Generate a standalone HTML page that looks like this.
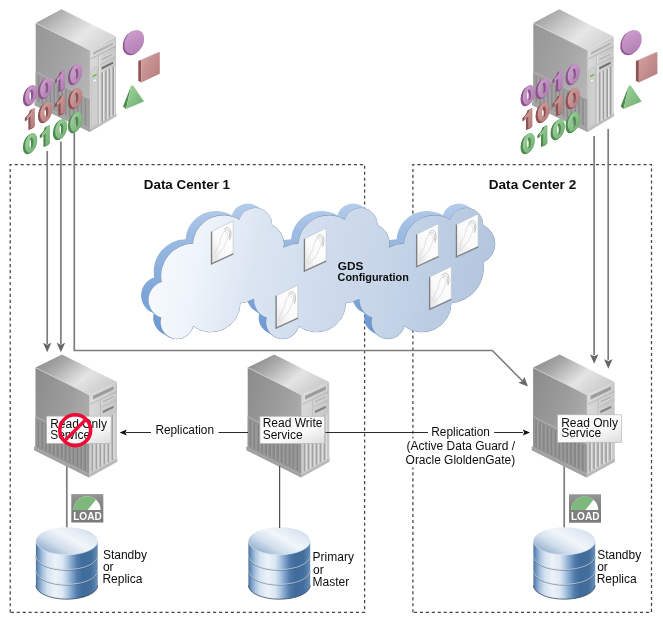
<!DOCTYPE html>
<html><head><meta charset="utf-8"><title>GDS</title>
<style>html,body{margin:0;padding:0;background:#fff}body{width:663px;height:620px;overflow:hidden;font-family:"Liberation Sans",sans-serif}</style>
</head><body><svg width="663" height="620" viewBox="0 0 663 620" style="display:block;will-change:transform" font-family="'Liberation Sans', sans-serif">
<defs>
<linearGradient id="cface" gradientUnits="userSpaceOnUse" x1="150" y1="240" x2="500" y2="310">
 <stop offset="0" stop-color="#f8fbfe"/><stop offset="0.14" stop-color="#eef4fa"/><stop offset="0.30" stop-color="#dbe5f2"/>
 <stop offset="0.51" stop-color="#cfdbec"/><stop offset="0.71" stop-color="#c3d3e7"/><stop offset="0.86" stop-color="#b8cae1"/><stop offset="1" stop-color="#b0c4dd"/>
</linearGradient>
<linearGradient id="cside" gradientUnits="userSpaceOnUse" x1="0" y1="203" x2="0" y2="340">
 <stop offset="0" stop-color="#b6cdeb"/><stop offset="0.2" stop-color="#9fbde3"/><stop offset="0.5" stop-color="#8aaedd"/><stop offset="1" stop-color="#6896d0"/>
</linearGradient>

<!-- server gradients (objectBoundingBox) -->
<linearGradient id="sTop" x1="0" y1="0.2" x2="1" y2="0.8">
 <stop offset="0" stop-color="#8a8a8a"/><stop offset="0.25" stop-color="#a9a9a9"/><stop offset="0.6" stop-color="#e4e4e4"/><stop offset="1" stop-color="#c6c6c6"/>
</linearGradient>
<linearGradient id="sLeft" x1="0" y1="0" x2="1" y2="0.6">
 <stop offset="0" stop-color="#8b8b8b"/><stop offset="0.6" stop-color="#9d9d9d"/><stop offset="1" stop-color="#b0b0b0"/>
</linearGradient>
<linearGradient id="sTop2" x1="0" y1="0.2" x2="1" y2="0.8">
 <stop offset="0" stop-color="#999999"/><stop offset="0.3" stop-color="#c2c2c2"/><stop offset="0.62" stop-color="#e7e7e7"/><stop offset="1" stop-color="#cfcfcf"/>
</linearGradient>
<linearGradient id="sLeft2" x1="0" y1="0" x2="1" y2="0.6">
 <stop offset="0" stop-color="#969696"/><stop offset="0.6" stop-color="#a5a5a5"/><stop offset="1" stop-color="#b6b6b6"/>
</linearGradient>
<linearGradient id="sRight" x1="0" y1="0" x2="1" y2="0">
 <stop offset="0" stop-color="#dadada"/><stop offset="1" stop-color="#c4c4c4"/>
</linearGradient>
<linearGradient id="lbl" x1="0" y1="0" x2="1" y2="1">
 <stop offset="0" stop-color="#ffffff"/><stop offset="0.6" stop-color="#fbfbfb"/><stop offset="1" stop-color="#dcdcdc"/>
</linearGradient>
<linearGradient id="dbSide" x1="0" y1="0" x2="1" y2="0">
 <stop offset="0" stop-color="#46719f"/><stop offset="0.04" stop-color="#6d93bd"/><stop offset="0.11" stop-color="#a9c3df"/>
 <stop offset="0.19" stop-color="#d6e3f1"/><stop offset="0.31" stop-color="#ecf2f9"/><stop offset="0.43" stop-color="#dde8f4"/>
 <stop offset="0.5" stop-color="#b7cde5"/><stop offset="0.585" stop-color="#7fa3cb"/><stop offset="0.67" stop-color="#507aa9"/>
 <stop offset="0.757" stop-color="#3f6c9c"/><stop offset="0.89" stop-color="#426e9d"/><stop offset="1" stop-color="#688fb8"/>
</linearGradient>
<linearGradient id="dbTop" x1="0" y1="0.9" x2="1" y2="0.1">
 <stop offset="0" stop-color="#6c8db3"/><stop offset="0.14" stop-color="#a0b8d3"/><stop offset="0.33" stop-color="#d0ddec"/><stop offset="0.58" stop-color="#f2f6fa"/><stop offset="0.84" stop-color="#dce6f1"/><stop offset="1" stop-color="#bccee2"/>
</linearGradient>
<linearGradient id="loadbg" x1="0" y1="0" x2="0" y2="1">
 <stop offset="0" stop-color="#959595"/><stop offset="0.5" stop-color="#808080"/><stop offset="1" stop-color="#7a7a7a"/>
</linearGradient>
<linearGradient id="icn" x1="1" y1="0" x2="0" y2="1">
 <stop offset="0" stop-color="#ffffff"/><stop offset="0.6" stop-color="#fafafa"/><stop offset="1" stop-color="#e2e2e2"/>
</linearGradient>
<linearGradient id="gP" x1="0" y1="0" x2="1" y2="1"><stop offset="0" stop-color="#d2a3d2"/><stop offset="1" stop-color="#ad79ad"/></linearGradient>
<linearGradient id="gR" x1="0" y1="0" x2="1" y2="1"><stop offset="0" stop-color="#d5a2a2"/><stop offset="1" stop-color="#b37a7a"/></linearGradient>
<linearGradient id="gG" x1="0" y1="0" x2="1" y2="1"><stop offset="0" stop-color="#a2d6a2"/><stop offset="1" stop-color="#6cab6c"/></linearGradient>
</defs>
<g fill="none" stroke="#444" stroke-width="1.25" stroke-dasharray="3.1 2.85"><path d="M10.2 612.3V164.6H364.6V612.3H10.2"/><path d="M412.9 612.3V164.6H651.5V612.3H412.9"/></g><g fill="none" stroke="#7d7d7d" stroke-width="1.7"><path d="M47.2 151V344"/><path d="M60.9 141.5V344"/><path d="M74.3 120V350.5H492.3L523.5 382"/><path d="M594.1 136V355"/><path d="M608.2 129V360"/><path d="M66.8 462V528"/><path d="M564.2 462V528"/></g><path transform="translate(47.2,352.3) rotate(90.0)" d="M0 0L-9.5 -4.2 L-7.6 0 L-9.5 4.2Z" fill="#676767"/><path transform="translate(60.9,352.3) rotate(90.0)" d="M0 0L-9.5 -4.2 L-7.6 0 L-9.5 4.2Z" fill="#676767"/><path transform="translate(594.2,363.8) rotate(90.0)" d="M0 0L-9.5 -4.2 L-7.6 0 L-9.5 4.2Z" fill="#676767"/><path transform="translate(608.3,368.7) rotate(90.0)" d="M0 0L-9.5 -4.2 L-7.6 0 L-9.5 4.2Z" fill="#676767"/><path transform="translate(528.0,386.5) rotate(45.3)" d="M0 0L-9.5 -4.2 L-7.6 0 L-9.5 4.2Z" fill="#676767"/><g id="clouds"><path d="M154.3 277.5 A32.3 32.3 0 0 1 185.6 239.2 A30.4 30.4 0 0 1 231.8 215.4 A16.6 16.6 0 0 1 264.3 220.7 A20.3 20.3 0 0 1 264.5 257.7 A35.2 35.2 0 0 1 232.6 298.4 A29.1 29.1 0 0 1 185.6 321.3 A16.4 16.4 0 1 1 153.9 313.0 A18.6 18.6 0 0 1 154.3 277.5ZM155.1 277.9 A32.3 32.3 0 0 1 186.3 239.6 A30.4 30.4 0 0 1 232.6 215.8 A16.6 16.6 0 0 1 265.1 221.1 A20.3 20.3 0 0 1 265.2 258.1 A35.2 35.2 0 0 1 233.3 298.8 A29.1 29.1 0 0 1 186.3 321.8 A16.4 16.4 0 1 1 154.7 313.4 A18.6 18.6 0 0 1 155.1 277.9ZM155.8 278.4 A32.3 32.3 0 0 1 187.1 240.1 A30.4 30.4 0 0 1 233.3 216.3 A16.6 16.6 0 0 1 265.8 221.6 A20.3 20.3 0 0 1 266.0 258.6 A35.2 35.2 0 0 1 234.1 299.3 A29.1 29.1 0 0 1 187.1 322.2 A16.4 16.4 0 1 1 155.4 313.9 A18.6 18.6 0 0 1 155.8 278.4ZM156.6 278.9 A32.3 32.3 0 0 1 187.8 240.5 A30.4 30.4 0 0 1 234.1 216.8 A16.6 16.6 0 0 1 266.6 222.0 A20.3 20.3 0 0 1 266.8 259.1 A35.2 35.2 0 0 1 234.8 299.8 A29.1 29.1 0 0 1 187.8 322.7 A16.4 16.4 0 1 1 156.2 314.4 A18.6 18.6 0 0 1 156.6 278.9ZM157.3 279.3 A32.3 32.3 0 0 1 188.6 241.0 A30.4 30.4 0 0 1 234.8 217.2 A16.6 16.6 0 0 1 267.3 222.5 A20.3 20.3 0 0 1 267.5 259.5 A35.2 35.2 0 0 1 235.6 300.2 A29.1 29.1 0 0 1 188.6 323.1 A16.4 16.4 0 1 1 156.9 314.8 A18.6 18.6 0 0 1 157.3 279.3ZM158.1 279.8 A32.3 32.3 0 0 1 189.3 241.4 A30.4 30.4 0 0 1 235.6 217.7 A16.6 16.6 0 0 1 268.1 222.9 A20.3 20.3 0 0 1 268.2 259.9 A35.2 35.2 0 0 1 236.3 300.6 A29.1 29.1 0 0 1 189.3 323.6 A16.4 16.4 0 1 1 157.7 315.2 A18.6 18.6 0 0 1 158.1 279.8ZM158.8 280.2 A32.3 32.3 0 0 1 190.1 241.9 A30.4 30.4 0 0 1 236.3 218.1 A16.6 16.6 0 0 1 268.8 223.4 A20.3 20.3 0 0 1 269.0 260.4 A35.2 35.2 0 0 1 237.1 301.1 A29.1 29.1 0 0 1 190.1 324.0 A16.4 16.4 0 1 1 158.4 315.7 A18.6 18.6 0 0 1 158.8 280.2ZM159.6 280.6 A32.3 32.3 0 0 1 190.8 242.3 A30.4 30.4 0 0 1 237.1 218.6 A16.6 16.6 0 0 1 269.6 223.8 A20.3 20.3 0 0 1 269.8 260.8 A35.2 35.2 0 0 1 237.8 301.5 A29.1 29.1 0 0 1 190.8 324.4 A16.4 16.4 0 1 1 159.2 316.1 A18.6 18.6 0 0 1 159.6 280.6ZM160.3 281.1 A32.3 32.3 0 0 1 191.6 242.8 A30.4 30.4 0 0 1 237.8 219.0 A16.6 16.6 0 0 1 270.3 224.3 A20.3 20.3 0 0 1 270.5 261.3 A35.2 35.2 0 0 1 238.6 302.0 A29.1 29.1 0 0 1 191.6 324.9 A16.4 16.4 0 1 1 159.9 316.6 A18.6 18.6 0 0 1 160.3 281.1ZM161.1 281.6 A32.3 32.3 0 0 1 192.3 243.2 A30.4 30.4 0 0 1 238.6 219.5 A16.6 16.6 0 0 1 271.1 224.8 A20.3 20.3 0 0 1 271.2 261.8 A35.2 35.2 0 0 1 239.3 302.4 A29.1 29.1 0 0 1 192.3 325.4 A16.4 16.4 0 1 1 160.7 317.1 A18.6 18.6 0 0 1 161.1 281.6ZM161.8 282.0 A32.3 32.3 0 0 1 193.1 243.7 A30.4 30.4 0 0 1 239.3 219.9 A16.6 16.6 0 0 1 271.8 225.2 A20.3 20.3 0 0 1 272.0 262.2 A35.2 35.2 0 0 1 240.1 302.9 A29.1 29.1 0 0 1 193.1 325.8 A16.4 16.4 0 1 1 161.4 317.5 A18.6 18.6 0 0 1 161.8 282.0Z" fill="url(#cside)"/><path d="M259.8 277.5 A32.3 32.3 0 0 1 291.1 239.2 A30.4 30.4 0 0 1 337.3 215.4 A16.6 16.6 0 0 1 369.8 220.7 A20.3 20.3 0 0 1 370.0 257.7 A35.2 35.2 0 0 1 338.1 298.4 A29.1 29.1 0 0 1 291.1 321.3 A16.4 16.4 0 1 1 259.4 313.0 A18.6 18.6 0 0 1 259.8 277.5ZM260.6 277.9 A32.3 32.3 0 0 1 291.9 239.6 A30.4 30.4 0 0 1 338.1 215.8 A16.6 16.6 0 0 1 370.6 221.1 A20.3 20.3 0 0 1 370.8 258.1 A35.2 35.2 0 0 1 338.9 298.8 A29.1 29.1 0 0 1 291.9 321.8 A16.4 16.4 0 1 1 260.1 313.4 A18.6 18.6 0 0 1 260.6 277.9ZM261.3 278.4 A32.3 32.3 0 0 1 292.6 240.1 A30.4 30.4 0 0 1 338.8 216.3 A16.6 16.6 0 0 1 371.3 221.6 A20.3 20.3 0 0 1 371.5 258.6 A35.2 35.2 0 0 1 339.6 299.3 A29.1 29.1 0 0 1 292.6 322.2 A16.4 16.4 0 1 1 260.9 313.9 A18.6 18.6 0 0 1 261.3 278.4ZM262.1 278.9 A32.3 32.3 0 0 1 293.4 240.5 A30.4 30.4 0 0 1 339.6 216.8 A16.6 16.6 0 0 1 372.1 222.0 A20.3 20.3 0 0 1 372.2 259.1 A35.2 35.2 0 0 1 340.4 299.8 A29.1 29.1 0 0 1 293.4 322.7 A16.4 16.4 0 1 1 261.6 314.4 A18.6 18.6 0 0 1 262.1 278.9ZM262.8 279.3 A32.3 32.3 0 0 1 294.1 241.0 A30.4 30.4 0 0 1 340.3 217.2 A16.6 16.6 0 0 1 372.8 222.5 A20.3 20.3 0 0 1 373.0 259.5 A35.2 35.2 0 0 1 341.1 300.2 A29.1 29.1 0 0 1 294.1 323.1 A16.4 16.4 0 1 1 262.4 314.8 A18.6 18.6 0 0 1 262.8 279.3ZM263.6 279.8 A32.3 32.3 0 0 1 294.9 241.4 A30.4 30.4 0 0 1 341.1 217.7 A16.6 16.6 0 0 1 373.6 222.9 A20.3 20.3 0 0 1 373.8 259.9 A35.2 35.2 0 0 1 341.9 300.6 A29.1 29.1 0 0 1 294.9 323.6 A16.4 16.4 0 1 1 263.1 315.2 A18.6 18.6 0 0 1 263.6 279.8ZM264.3 280.2 A32.3 32.3 0 0 1 295.6 241.9 A30.4 30.4 0 0 1 341.8 218.1 A16.6 16.6 0 0 1 374.3 223.4 A20.3 20.3 0 0 1 374.5 260.4 A35.2 35.2 0 0 1 342.6 301.1 A29.1 29.1 0 0 1 295.6 324.0 A16.4 16.4 0 1 1 263.9 315.7 A18.6 18.6 0 0 1 264.3 280.2ZM265.1 280.6 A32.3 32.3 0 0 1 296.4 242.3 A30.4 30.4 0 0 1 342.6 218.6 A16.6 16.6 0 0 1 375.1 223.8 A20.3 20.3 0 0 1 375.2 260.8 A35.2 35.2 0 0 1 343.4 301.5 A29.1 29.1 0 0 1 296.4 324.4 A16.4 16.4 0 1 1 264.6 316.1 A18.6 18.6 0 0 1 265.1 280.6ZM265.8 281.1 A32.3 32.3 0 0 1 297.1 242.8 A30.4 30.4 0 0 1 343.3 219.0 A16.6 16.6 0 0 1 375.8 224.3 A20.3 20.3 0 0 1 376.0 261.3 A35.2 35.2 0 0 1 344.1 302.0 A29.1 29.1 0 0 1 297.1 324.9 A16.4 16.4 0 1 1 265.4 316.6 A18.6 18.6 0 0 1 265.8 281.1ZM266.6 281.6 A32.3 32.3 0 0 1 297.9 243.2 A30.4 30.4 0 0 1 344.1 219.5 A16.6 16.6 0 0 1 376.6 224.8 A20.3 20.3 0 0 1 376.8 261.8 A35.2 35.2 0 0 1 344.9 302.4 A29.1 29.1 0 0 1 297.9 325.4 A16.4 16.4 0 1 1 266.1 317.1 A18.6 18.6 0 0 1 266.6 281.6ZM267.3 282.0 A32.3 32.3 0 0 1 298.6 243.7 A30.4 30.4 0 0 1 344.8 219.9 A16.6 16.6 0 0 1 377.3 225.2 A20.3 20.3 0 0 1 377.5 262.2 A35.2 35.2 0 0 1 345.6 302.9 A29.1 29.1 0 0 1 298.6 325.8 A16.4 16.4 0 1 1 266.9 317.5 A18.6 18.6 0 0 1 267.3 282.0Z" fill="url(#cside)"/><path d="M365.3 277.5 A32.3 32.3 0 0 1 396.6 239.2 A30.4 30.4 0 0 1 442.8 215.4 A16.6 16.6 0 0 1 475.3 220.7 A20.3 20.3 0 0 1 475.5 257.7 A35.2 35.2 0 0 1 443.6 298.4 A29.1 29.1 0 0 1 396.6 321.3 A16.4 16.4 0 1 1 364.9 313.0 A18.6 18.6 0 0 1 365.3 277.5ZM366.1 277.9 A32.3 32.3 0 0 1 397.4 239.6 A30.4 30.4 0 0 1 443.6 215.8 A16.6 16.6 0 0 1 476.1 221.1 A20.3 20.3 0 0 1 476.2 258.1 A35.2 35.2 0 0 1 444.4 298.8 A29.1 29.1 0 0 1 397.4 321.8 A16.4 16.4 0 1 1 365.6 313.4 A18.6 18.6 0 0 1 366.1 277.9ZM366.8 278.4 A32.3 32.3 0 0 1 398.1 240.1 A30.4 30.4 0 0 1 444.3 216.3 A16.6 16.6 0 0 1 476.8 221.6 A20.3 20.3 0 0 1 477.0 258.6 A35.2 35.2 0 0 1 445.1 299.3 A29.1 29.1 0 0 1 398.1 322.2 A16.4 16.4 0 1 1 366.4 313.9 A18.6 18.6 0 0 1 366.8 278.4ZM367.6 278.9 A32.3 32.3 0 0 1 398.9 240.5 A30.4 30.4 0 0 1 445.1 216.8 A16.6 16.6 0 0 1 477.6 222.0 A20.3 20.3 0 0 1 477.8 259.1 A35.2 35.2 0 0 1 445.9 299.8 A29.1 29.1 0 0 1 398.9 322.7 A16.4 16.4 0 1 1 367.1 314.4 A18.6 18.6 0 0 1 367.6 278.9ZM368.3 279.3 A32.3 32.3 0 0 1 399.6 241.0 A30.4 30.4 0 0 1 445.8 217.2 A16.6 16.6 0 0 1 478.3 222.5 A20.3 20.3 0 0 1 478.5 259.5 A35.2 35.2 0 0 1 446.6 300.2 A29.1 29.1 0 0 1 399.6 323.1 A16.4 16.4 0 1 1 367.9 314.8 A18.6 18.6 0 0 1 368.3 279.3ZM369.1 279.8 A32.3 32.3 0 0 1 400.4 241.4 A30.4 30.4 0 0 1 446.6 217.7 A16.6 16.6 0 0 1 479.1 222.9 A20.3 20.3 0 0 1 479.2 259.9 A35.2 35.2 0 0 1 447.4 300.6 A29.1 29.1 0 0 1 400.4 323.6 A16.4 16.4 0 1 1 368.6 315.2 A18.6 18.6 0 0 1 369.1 279.8ZM369.8 280.2 A32.3 32.3 0 0 1 401.1 241.9 A30.4 30.4 0 0 1 447.3 218.1 A16.6 16.6 0 0 1 479.8 223.4 A20.3 20.3 0 0 1 480.0 260.4 A35.2 35.2 0 0 1 448.1 301.1 A29.1 29.1 0 0 1 401.1 324.0 A16.4 16.4 0 1 1 369.4 315.7 A18.6 18.6 0 0 1 369.8 280.2ZM370.6 280.6 A32.3 32.3 0 0 1 401.9 242.3 A30.4 30.4 0 0 1 448.1 218.6 A16.6 16.6 0 0 1 480.6 223.8 A20.3 20.3 0 0 1 480.8 260.8 A35.2 35.2 0 0 1 448.9 301.5 A29.1 29.1 0 0 1 401.9 324.4 A16.4 16.4 0 1 1 370.1 316.1 A18.6 18.6 0 0 1 370.6 280.6ZM371.3 281.1 A32.3 32.3 0 0 1 402.6 242.8 A30.4 30.4 0 0 1 448.8 219.0 A16.6 16.6 0 0 1 481.3 224.3 A20.3 20.3 0 0 1 481.5 261.3 A35.2 35.2 0 0 1 449.6 302.0 A29.1 29.1 0 0 1 402.6 324.9 A16.4 16.4 0 1 1 370.9 316.6 A18.6 18.6 0 0 1 371.3 281.1ZM372.1 281.6 A32.3 32.3 0 0 1 403.4 243.2 A30.4 30.4 0 0 1 449.6 219.5 A16.6 16.6 0 0 1 482.1 224.8 A20.3 20.3 0 0 1 482.2 261.8 A35.2 35.2 0 0 1 450.4 302.4 A29.1 29.1 0 0 1 403.4 325.4 A16.4 16.4 0 1 1 371.6 317.1 A18.6 18.6 0 0 1 372.1 281.6ZM372.8 282.0 A32.3 32.3 0 0 1 404.1 243.7 A30.4 30.4 0 0 1 450.3 219.9 A16.6 16.6 0 0 1 482.8 225.2 A20.3 20.3 0 0 1 483.0 262.2 A35.2 35.2 0 0 1 451.1 302.9 A29.1 29.1 0 0 1 404.1 325.8 A16.4 16.4 0 1 1 372.4 317.5 A18.6 18.6 0 0 1 372.8 282.0Z" fill="url(#cside)"/><path d="M161.8 282.0 A32.3 32.3 0 0 1 193.1 243.7 A30.4 30.4 0 0 1 239.3 219.9 A16.6 16.6 0 0 1 271.8 225.2 A20.3 20.3 0 0 1 272.0 262.2 A35.2 35.2 0 0 1 240.1 302.9 A29.1 29.1 0 0 1 193.1 325.8 A16.4 16.4 0 1 1 161.4 317.5 A18.6 18.6 0 0 1 161.8 282.0ZM267.3 282.0 A32.3 32.3 0 0 1 298.6 243.7 A30.4 30.4 0 0 1 344.8 219.9 A16.6 16.6 0 0 1 377.3 225.2 A20.3 20.3 0 0 1 377.5 262.2 A35.2 35.2 0 0 1 345.6 302.9 A29.1 29.1 0 0 1 298.6 325.8 A16.4 16.4 0 1 1 266.9 317.5 A18.6 18.6 0 0 1 267.3 282.0ZM372.8 282.0 A32.3 32.3 0 0 1 404.1 243.7 A30.4 30.4 0 0 1 450.3 219.9 A16.6 16.6 0 0 1 482.8 225.2 A20.3 20.3 0 0 1 483.0 262.2 A35.2 35.2 0 0 1 451.1 302.9 A29.1 29.1 0 0 1 404.1 325.8 A16.4 16.4 0 1 1 372.4 317.5 A18.6 18.6 0 0 1 372.8 282.0Z" fill="none" stroke="#7f8ea3" stroke-width="0.9"/><path d="M161.8 282.0 A32.3 32.3 0 0 1 193.1 243.7 A30.4 30.4 0 0 1 239.3 219.9 A16.6 16.6 0 0 1 271.8 225.2 A20.3 20.3 0 0 1 272.0 262.2 A35.2 35.2 0 0 1 240.1 302.9 A29.1 29.1 0 0 1 193.1 325.8 A16.4 16.4 0 1 1 161.4 317.5 A18.6 18.6 0 0 1 161.8 282.0ZM267.3 282.0 A32.3 32.3 0 0 1 298.6 243.7 A30.4 30.4 0 0 1 344.8 219.9 A16.6 16.6 0 0 1 377.3 225.2 A20.3 20.3 0 0 1 377.5 262.2 A35.2 35.2 0 0 1 345.6 302.9 A29.1 29.1 0 0 1 298.6 325.8 A16.4 16.4 0 1 1 266.9 317.5 A18.6 18.6 0 0 1 267.3 282.0ZM372.8 282.0 A32.3 32.3 0 0 1 404.1 243.7 A30.4 30.4 0 0 1 450.3 219.9 A16.6 16.6 0 0 1 482.8 225.2 A20.3 20.3 0 0 1 483.0 262.2 A35.2 35.2 0 0 1 451.1 302.9 A29.1 29.1 0 0 1 404.1 325.8 A16.4 16.4 0 1 1 372.4 317.5 A18.6 18.6 0 0 1 372.8 282.0Z" fill="url(#cface)"/></g><g transform="translate(211.7,231.4)"><path d="M0 0L21.5 -10.4V22.0L0 32.4Z" fill="url(#icn)" stroke="#b9bec6" stroke-width="0.6"/><path d="M-0.2 0.2V33.0" stroke="#7e7e7e" stroke-width="1.3" fill="none"/><path d="M-0.8 32.8L21.7 22.5" stroke="#858585" stroke-width="1.3" fill="none"/><g fill="none" stroke-linecap="round"><path d="M12.4 -1.8C14 -4.8 18 -4.6 18.9 -0.5C19.6 2.5 19.3 5.5 18.1 8" stroke="#aeaeae" stroke-width="0.8"/><path d="M13.3 -0.8C15 -2.6 17.2 -1.4 17.7 1.3C18 3 18 4.5 17.6 6" stroke="#bcbcbc" stroke-width="0.8"/><path d="M12.4 0C9.8 3 8.8 6.5 8.4 10.2C7.8 13.5 5.6 15 4.8 17.5C3.8 20.5 2.9 22.6 3.1 24.2C3.3 26.4 4.6 26.4 5.4 24.4C6.2 22.4 8 21.2 9.7 19.4C11.8 17 13 14.5 14 12C15.2 9 16.4 7 16.4 4.6C16.4 2.6 15.2 0.4 12.4 0Z" stroke="#d4d4d4" stroke-width="0.7"/></g></g><g transform="translate(276.3,295.6)"><path d="M0 0L21.5 -10.4V22.0L0 32.4Z" fill="url(#icn)" stroke="#b9bec6" stroke-width="0.6"/><path d="M-0.2 0.2V33.0" stroke="#7e7e7e" stroke-width="1.3" fill="none"/><path d="M-0.8 32.8L21.7 22.5" stroke="#858585" stroke-width="1.3" fill="none"/><g fill="none" stroke-linecap="round"><path d="M12.4 -1.8C14 -4.8 18 -4.6 18.9 -0.5C19.6 2.5 19.3 5.5 18.1 8" stroke="#aeaeae" stroke-width="0.8"/><path d="M13.3 -0.8C15 -2.6 17.2 -1.4 17.7 1.3C18 3 18 4.5 17.6 6" stroke="#bcbcbc" stroke-width="0.8"/><path d="M12.4 0C9.8 3 8.8 6.5 8.4 10.2C7.8 13.5 5.6 15 4.8 17.5C3.8 20.5 2.9 22.6 3.1 24.2C3.3 26.4 4.6 26.4 5.4 24.4C6.2 22.4 8 21.2 9.7 19.4C11.8 17 13 14.5 14 12C15.2 9 16.4 7 16.4 4.6C16.4 2.6 15.2 0.4 12.4 0Z" stroke="#d4d4d4" stroke-width="0.7"/></g></g><g transform="translate(304.6,238.6)"><path d="M0 0L21.5 -10.4V22.0L0 32.4Z" fill="url(#icn)" stroke="#b9bec6" stroke-width="0.6"/><path d="M-0.2 0.2V33.0" stroke="#7e7e7e" stroke-width="1.3" fill="none"/><path d="M-0.8 32.8L21.7 22.5" stroke="#858585" stroke-width="1.3" fill="none"/><g fill="none" stroke-linecap="round"><path d="M12.4 -1.8C14 -4.8 18 -4.6 18.9 -0.5C19.6 2.5 19.3 5.5 18.1 8" stroke="#aeaeae" stroke-width="0.8"/><path d="M13.3 -0.8C15 -2.6 17.2 -1.4 17.7 1.3C18 3 18 4.5 17.6 6" stroke="#bcbcbc" stroke-width="0.8"/><path d="M12.4 0C9.8 3 8.8 6.5 8.4 10.2C7.8 13.5 5.6 15 4.8 17.5C3.8 20.5 2.9 22.6 3.1 24.2C3.3 26.4 4.6 26.4 5.4 24.4C6.2 22.4 8 21.2 9.7 19.4C11.8 17 13 14.5 14 12C15.2 9 16.4 7 16.4 4.6C16.4 2.6 15.2 0.4 12.4 0Z" stroke="#d4d4d4" stroke-width="0.7"/></g></g><g transform="translate(416.8,234.2)"><path d="M0 0L21.5 -10.4V22.0L0 32.4Z" fill="url(#icn)" stroke="#b9bec6" stroke-width="0.6"/><path d="M-0.2 0.2V33.0" stroke="#7e7e7e" stroke-width="1.3" fill="none"/><path d="M-0.8 32.8L21.7 22.5" stroke="#858585" stroke-width="1.3" fill="none"/><g fill="none" stroke-linecap="round"><path d="M12.4 -1.8C14 -4.8 18 -4.6 18.9 -0.5C19.6 2.5 19.3 5.5 18.1 8" stroke="#aeaeae" stroke-width="0.8"/><path d="M13.3 -0.8C15 -2.6 17.2 -1.4 17.7 1.3C18 3 18 4.5 17.6 6" stroke="#bcbcbc" stroke-width="0.8"/><path d="M12.4 0C9.8 3 8.8 6.5 8.4 10.2C7.8 13.5 5.6 15 4.8 17.5C3.8 20.5 2.9 22.6 3.1 24.2C3.3 26.4 4.6 26.4 5.4 24.4C6.2 22.4 8 21.2 9.7 19.4C11.8 17 13 14.5 14 12C15.2 9 16.4 7 16.4 4.6C16.4 2.6 15.2 0.4 12.4 0Z" stroke="#d4d4d4" stroke-width="0.7"/></g></g><g transform="translate(456.6,224.4)"><path d="M0 0L21.5 -10.4V22.0L0 32.4Z" fill="url(#icn)" stroke="#b9bec6" stroke-width="0.6"/><path d="M-0.2 0.2V33.0" stroke="#7e7e7e" stroke-width="1.3" fill="none"/><path d="M-0.8 32.8L21.7 22.5" stroke="#858585" stroke-width="1.3" fill="none"/><g fill="none" stroke-linecap="round"><path d="M12.4 -1.8C14 -4.8 18 -4.6 18.9 -0.5C19.6 2.5 19.3 5.5 18.1 8" stroke="#aeaeae" stroke-width="0.8"/><path d="M13.3 -0.8C15 -2.6 17.2 -1.4 17.7 1.3C18 3 18 4.5 17.6 6" stroke="#bcbcbc" stroke-width="0.8"/><path d="M12.4 0C9.8 3 8.8 6.5 8.4 10.2C7.8 13.5 5.6 15 4.8 17.5C3.8 20.5 2.9 22.6 3.1 24.2C3.3 26.4 4.6 26.4 5.4 24.4C6.2 22.4 8 21.2 9.7 19.4C11.8 17 13 14.5 14 12C15.2 9 16.4 7 16.4 4.6C16.4 2.6 15.2 0.4 12.4 0Z" stroke="#d4d4d4" stroke-width="0.7"/></g></g><g transform="translate(429.8,276.9)"><path d="M0 0L21.5 -10.4V22.0L0 32.4Z" fill="url(#icn)" stroke="#b9bec6" stroke-width="0.6"/><path d="M-0.2 0.2V33.0" stroke="#7e7e7e" stroke-width="1.3" fill="none"/><path d="M-0.8 32.8L21.7 22.5" stroke="#858585" stroke-width="1.3" fill="none"/><g fill="none" stroke-linecap="round"><path d="M12.4 -1.8C14 -4.8 18 -4.6 18.9 -0.5C19.6 2.5 19.3 5.5 18.1 8" stroke="#aeaeae" stroke-width="0.8"/><path d="M13.3 -0.8C15 -2.6 17.2 -1.4 17.7 1.3C18 3 18 4.5 17.6 6" stroke="#bcbcbc" stroke-width="0.8"/><path d="M12.4 0C9.8 3 8.8 6.5 8.4 10.2C7.8 13.5 5.6 15 4.8 17.5C3.8 20.5 2.9 22.6 3.1 24.2C3.3 26.4 4.6 26.4 5.4 24.4C6.2 22.4 8 21.2 9.7 19.4C11.8 17 13 14.5 14 12C15.2 9 16.4 7 16.4 4.6C16.4 2.6 15.2 0.4 12.4 0Z" stroke="#d4d4d4" stroke-width="0.7"/></g></g><g transform="translate(0.0,0)"><path d="M34.2 446.5L89 474L117.4 458.3V461.8L89 477.6L34.2 450.2Z" fill="#b9b9b9"/><path d="M34.2 446.5L89 474V477.6L34.2 450.2Z" fill="#a2a2a2"/><path d="M35.5 367.5L89.5 395V474L35.5 447Z" fill="url(#sLeft)"/><path d="M35.5 417L89.5 444.5V474L35.5 447Z" fill="#939393"/><path d="M35.5 416.6L89.5 444.1" stroke="#bdbdbd" stroke-width="0.8" fill="none"/><path d="M38.5 421.0V447.0M42.4 423.0V448.9M46.3 425.0V450.9M50.2 427.0V452.9M54.1 429.0V454.8M58.0 431.0V456.8M61.9 432.9V458.7M65.8 434.9V460.6M69.7 436.9V462.6M73.6 438.9V464.6M77.5 440.9V466.5M81.4 442.9V468.4M85.3 444.8V470.4" stroke="#848484" stroke-width="1.4" fill="none"/><path transform="translate(1.4,0.7)" d="M38.5 421.0V447.0M42.4 423.0V448.9M46.3 425.0V450.9M50.2 427.0V452.9M54.1 429.0V454.8M58.0 431.0V456.8M61.9 432.9V458.7M65.8 434.9V460.6M69.7 436.9V462.6M73.6 438.9V464.6M77.5 440.9V466.5M81.4 442.9V468.4M85.3 444.8V470.4" stroke="#a3a3a3" stroke-width="0.8" fill="none"/><path d="M89.5 395L117 382V458.5L89.5 474Z" fill="url(#sRight)"/><path d="M89.5 425L117 412V458.5L89.5 474Z" fill="#c9c9c9"/><path d="M92.5 424.6V471.3M96.5 422.7V469.1M100.5 420.8V466.8M104.5 418.9V464.6M108.5 417.0V462.3M112.5 415.1V460.1" stroke="#a2a2a2" stroke-width="1.6" fill="none"/><path transform="translate(1.5,-0.6)" d="M92.5 424.6V471.3M96.5 422.7V469.1M100.5 420.8V466.8M104.5 418.9V464.6M108.5 417.0V462.3M112.5 415.1V460.1" stroke="#e6e6e6" stroke-width="1" fill="none"/><path d="M92.4 395.4L114.2 385.3V390.2L92.4 400.5Z" fill="#a4a4a4" stroke="#ededed" stroke-width="0.7"/><path d="M93.4 397.2L113.4 387.9" stroke="#8e8e8e" stroke-width="0.8"/><path d="M90 404.3L117 391.6" stroke="#aeaeae" stroke-width="0.7"/><path d="M100.5 400V418.5" stroke="#b4b4b4" stroke-width="0.7"/><path d="M102.3 400.6L114.2 395.1V397.9L102.3 403.5Z" fill="#b6b6b6" stroke="#efefef" stroke-width="0.5"/><path d="M101.5 407L117 399.8" stroke="#b4b4b4" stroke-width="0.6"/><path d="M102.3 410.6L114.2 405V408.2L102.3 413.9Z" fill="#838383" stroke="#efefef" stroke-width="0.5"/><path d="M62 354.5L117 382L89.5 395L35.5 367.5Z" fill="url(#sTop)"/><path d="M35.5 367.5L89.5 395L117 382" stroke="#dcdcdc" stroke-width="0.6" fill="none"/><path d="M89.5 395V474" stroke="#c9c9c9" stroke-width="0.7"/></g><g transform="translate(212.2,0)"><path d="M34.2 446.5L89 474L117.4 458.3V461.8L89 477.6L34.2 450.2Z" fill="#b9b9b9"/><path d="M34.2 446.5L89 474V477.6L34.2 450.2Z" fill="#a2a2a2"/><path d="M35.5 367.5L89.5 395V474L35.5 447Z" fill="url(#sLeft)"/><path d="M35.5 417L89.5 444.5V474L35.5 447Z" fill="#939393"/><path d="M35.5 416.6L89.5 444.1" stroke="#bdbdbd" stroke-width="0.8" fill="none"/><path d="M38.5 421.0V447.0M42.4 423.0V448.9M46.3 425.0V450.9M50.2 427.0V452.9M54.1 429.0V454.8M58.0 431.0V456.8M61.9 432.9V458.7M65.8 434.9V460.6M69.7 436.9V462.6M73.6 438.9V464.6M77.5 440.9V466.5M81.4 442.9V468.4M85.3 444.8V470.4" stroke="#848484" stroke-width="1.4" fill="none"/><path transform="translate(1.4,0.7)" d="M38.5 421.0V447.0M42.4 423.0V448.9M46.3 425.0V450.9M50.2 427.0V452.9M54.1 429.0V454.8M58.0 431.0V456.8M61.9 432.9V458.7M65.8 434.9V460.6M69.7 436.9V462.6M73.6 438.9V464.6M77.5 440.9V466.5M81.4 442.9V468.4M85.3 444.8V470.4" stroke="#a3a3a3" stroke-width="0.8" fill="none"/><path d="M89.5 395L117 382V458.5L89.5 474Z" fill="url(#sRight)"/><path d="M89.5 425L117 412V458.5L89.5 474Z" fill="#c9c9c9"/><path d="M92.5 424.6V471.3M96.5 422.7V469.1M100.5 420.8V466.8M104.5 418.9V464.6M108.5 417.0V462.3M112.5 415.1V460.1" stroke="#a2a2a2" stroke-width="1.6" fill="none"/><path transform="translate(1.5,-0.6)" d="M92.5 424.6V471.3M96.5 422.7V469.1M100.5 420.8V466.8M104.5 418.9V464.6M108.5 417.0V462.3M112.5 415.1V460.1" stroke="#e6e6e6" stroke-width="1" fill="none"/><path d="M92.4 395.4L114.2 385.3V390.2L92.4 400.5Z" fill="#a4a4a4" stroke="#ededed" stroke-width="0.7"/><path d="M93.4 397.2L113.4 387.9" stroke="#8e8e8e" stroke-width="0.8"/><path d="M90 404.3L117 391.6" stroke="#aeaeae" stroke-width="0.7"/><path d="M100.5 400V418.5" stroke="#b4b4b4" stroke-width="0.7"/><path d="M102.3 400.6L114.2 395.1V397.9L102.3 403.5Z" fill="#b6b6b6" stroke="#efefef" stroke-width="0.5"/><path d="M101.5 407L117 399.8" stroke="#b4b4b4" stroke-width="0.6"/><path d="M102.3 410.6L114.2 405V408.2L102.3 413.9Z" fill="#838383" stroke="#efefef" stroke-width="0.5"/><path d="M62 354.5L117 382L89.5 395L35.5 367.5Z" fill="url(#sTop)"/><path d="M35.5 367.5L89.5 395L117 382" stroke="#dcdcdc" stroke-width="0.6" fill="none"/><path d="M89.5 395V474" stroke="#c9c9c9" stroke-width="0.7"/></g><g transform="translate(497.6,0)"><path d="M34.2 446.5L89 474L117.4 458.3V461.8L89 477.6L34.2 450.2Z" fill="#b9b9b9"/><path d="M34.2 446.5L89 474V477.6L34.2 450.2Z" fill="#a2a2a2"/><path d="M35.5 367.5L89.5 395V474L35.5 447Z" fill="url(#sLeft)"/><path d="M35.5 417L89.5 444.5V474L35.5 447Z" fill="#939393"/><path d="M35.5 416.6L89.5 444.1" stroke="#bdbdbd" stroke-width="0.8" fill="none"/><path d="M38.5 421.0V447.0M42.4 423.0V448.9M46.3 425.0V450.9M50.2 427.0V452.9M54.1 429.0V454.8M58.0 431.0V456.8M61.9 432.9V458.7M65.8 434.9V460.6M69.7 436.9V462.6M73.6 438.9V464.6M77.5 440.9V466.5M81.4 442.9V468.4M85.3 444.8V470.4" stroke="#848484" stroke-width="1.4" fill="none"/><path transform="translate(1.4,0.7)" d="M38.5 421.0V447.0M42.4 423.0V448.9M46.3 425.0V450.9M50.2 427.0V452.9M54.1 429.0V454.8M58.0 431.0V456.8M61.9 432.9V458.7M65.8 434.9V460.6M69.7 436.9V462.6M73.6 438.9V464.6M77.5 440.9V466.5M81.4 442.9V468.4M85.3 444.8V470.4" stroke="#a3a3a3" stroke-width="0.8" fill="none"/><path d="M89.5 395L117 382V458.5L89.5 474Z" fill="url(#sRight)"/><path d="M89.5 425L117 412V458.5L89.5 474Z" fill="#c9c9c9"/><path d="M92.5 424.6V471.3M96.5 422.7V469.1M100.5 420.8V466.8M104.5 418.9V464.6M108.5 417.0V462.3M112.5 415.1V460.1" stroke="#a2a2a2" stroke-width="1.6" fill="none"/><path transform="translate(1.5,-0.6)" d="M92.5 424.6V471.3M96.5 422.7V469.1M100.5 420.8V466.8M104.5 418.9V464.6M108.5 417.0V462.3M112.5 415.1V460.1" stroke="#e6e6e6" stroke-width="1" fill="none"/><path d="M92.4 395.4L114.2 385.3V390.2L92.4 400.5Z" fill="#a4a4a4" stroke="#ededed" stroke-width="0.7"/><path d="M93.4 397.2L113.4 387.9" stroke="#8e8e8e" stroke-width="0.8"/><path d="M90 404.3L117 391.6" stroke="#aeaeae" stroke-width="0.7"/><path d="M100.5 400V418.5" stroke="#b4b4b4" stroke-width="0.7"/><path d="M102.3 400.6L114.2 395.1V397.9L102.3 403.5Z" fill="#b6b6b6" stroke="#efefef" stroke-width="0.5"/><path d="M101.5 407L117 399.8" stroke="#b4b4b4" stroke-width="0.6"/><path d="M102.3 410.6L114.2 405V408.2L102.3 413.9Z" fill="#838383" stroke="#efefef" stroke-width="0.5"/><path d="M62 354.5L117 382L89.5 395L35.5 367.5Z" fill="url(#sTop)"/><path d="M35.5 367.5L89.5 395L117 382" stroke="#dcdcdc" stroke-width="0.6" fill="none"/><path d="M89.5 395V474" stroke="#c9c9c9" stroke-width="0.7"/></g><g transform="translate(0.0,0)"><path d="M34.6 101.5L90 128.6L116.6 113V116.3L90 132L34.6 105.2Z" fill="#bdbdbd"/><path d="M34.6 101.5L90 128.6V132L34.6 105.2Z" fill="#a4a4a4"/><path d="M35.7 23L90.2 50.3V128.8L35.7 102Z" fill="url(#sLeft2)"/><path d="M35.7 72L90.2 99.5V128.8L35.7 102Z" fill="#9e9e9e"/><path d="M35.7 71.7L90.2 99.2" stroke="#bababa" stroke-width="0.8" fill="none"/><path d="M38.7 76.0V102.0M42.6 78.0V103.9M46.5 80.0V105.8M50.4 81.9V107.7M54.3 83.9V109.6M58.2 85.9V111.5M62.1 87.8V113.4M66.0 89.8V115.3M69.9 91.8V117.3M73.8 93.7V119.2M77.7 95.7V121.1M81.6 97.7V123.0M85.5 99.6V124.9" stroke="#8b8b8b" stroke-width="1.4" fill="none"/><path transform="translate(1.4,0.7)" d="M38.7 76.0V102.0M42.6 78.0V103.9M46.5 80.0V105.8M50.4 81.9V107.7M54.3 83.9V109.6M58.2 85.9V111.5M62.1 87.8V113.4M66.0 89.8V115.3M69.9 91.8V117.3M73.8 93.7V119.2M77.7 95.7V121.1M81.6 97.7V123.0M85.5 99.6V124.9" stroke="#a9a9a9" stroke-width="0.7" fill="none"/><path d="M90.2 50.3L116 36.6V113.3L90.2 128.8Z" fill="url(#sRight)"/><path d="M92.6 52L113.8 41.4V45L92.6 55.8Z" fill="#b4b4b4" stroke="#f0f0f0" stroke-width="0.6"/><path d="M90.5 59L116 46.3" stroke="#a9a9a9" stroke-width="0.7"/><path d="M98.8 55V124" stroke="#ababab" stroke-width="0.7"/><path d="M99.6 55V124" stroke="#f2f2f2" stroke-width="0.7"/><path d="M101.2 58.6L113.5 52.6V55L101.2 61.2Z" fill="#b0b0b0" stroke="#f0f0f0" stroke-width="0.5"/><path d="M100 64.8L116 57" stroke="#b0b0b0" stroke-width="0.6"/><path d="M101.2 67L113.5 61V64L101.2 70.2Z" fill="#6f6f6f" stroke="#f0f0f0" stroke-width="0.5"/><path d="M102.3 72.3V121.7M106.0 70.5V119.5M109.7 68.7V117.4M113.3 66.8V115.3" stroke="#9b9b9b" stroke-width="1.5" fill="none"/><path transform="translate(1.3,-0.5)" d="M102.3 72.3V121.7M106.0 70.5V119.5M109.7 68.7V117.4M113.3 66.8V115.3" stroke="#f0f0f0" stroke-width="0.8" fill="none"/><path d="M91 72C91 68 97.8 65 97.8 68.5V123.5L91 127.5Z" fill="#cfcfcf" stroke="#b5b5b5" stroke-width="0.5"/><path d="M92.6 75.8L96.6 73.6V75.2L92.6 77.4Z" fill="#62c23a"/><ellipse cx="94.6" cy="80.6" rx="2.1" ry="1.3" transform="rotate(-27 94.6 80.6)" fill="#f6f6f6" stroke="#aaa" stroke-width="0.4"/><path d="M61.6 9.2L116 36.6L90.2 50.3L35.7 23Z" fill="url(#sTop2)"/><path d="M35.7 23L90.2 50.3L116 36.6" stroke="#e0e0e0" stroke-width="0.6" fill="none"/><path d="M90.2 50.3V128.8" stroke="#cdcdcd" stroke-width="0.7"/></g><g transform="translate(0.0,0)"><g transform="translate(22.8,108.2) skewY(-25)" fill-rule="evenodd"><path transform="translate(-2.20,0.50)" d="M2.30 -9.40A6.10 9.40 0 1 0 14.50 -9.40A6.10 9.40 0 1 0 2.30 -9.40ZM6.70 -9.40A1.90 5.30 0 1 0 10.50 -9.40A1.90 5.30 0 1 0 6.70 -9.40Z" fill="#8d548d"/><path transform="translate(-1.65,0.38)" d="M2.30 -9.40A6.10 9.40 0 1 0 14.50 -9.40A6.10 9.40 0 1 0 2.30 -9.40ZM6.70 -9.40A1.90 5.30 0 1 0 10.50 -9.40A1.90 5.30 0 1 0 6.70 -9.40Z" fill="#8d548d"/><path transform="translate(-1.10,0.25)" d="M2.30 -9.40A6.10 9.40 0 1 0 14.50 -9.40A6.10 9.40 0 1 0 2.30 -9.40ZM6.70 -9.40A1.90 5.30 0 1 0 10.50 -9.40A1.90 5.30 0 1 0 6.70 -9.40Z" fill="#8d548d"/><path transform="translate(-0.55,0.12)" d="M2.30 -9.40A6.10 9.40 0 1 0 14.50 -9.40A6.10 9.40 0 1 0 2.30 -9.40ZM6.70 -9.40A1.90 5.30 0 1 0 10.50 -9.40A1.90 5.30 0 1 0 6.70 -9.40Z" fill="#8d548d"/><path d="M2.30 -9.40A6.10 9.40 0 1 0 14.50 -9.40A6.10 9.40 0 1 0 2.30 -9.40ZM6.70 -9.40A1.90 5.30 0 1 0 10.50 -9.40A1.90 5.30 0 1 0 6.70 -9.40Z" fill="url(#gP)"/></g><g transform="translate(37.8,101.2) skewY(-25)" fill-rule="evenodd"><path transform="translate(-2.20,0.50)" d="M2.30 -9.40A6.10 9.40 0 1 0 14.50 -9.40A6.10 9.40 0 1 0 2.30 -9.40ZM6.70 -9.40A1.90 5.30 0 1 0 10.50 -9.40A1.90 5.30 0 1 0 6.70 -9.40Z" fill="#8d548d"/><path transform="translate(-1.65,0.38)" d="M2.30 -9.40A6.10 9.40 0 1 0 14.50 -9.40A6.10 9.40 0 1 0 2.30 -9.40ZM6.70 -9.40A1.90 5.30 0 1 0 10.50 -9.40A1.90 5.30 0 1 0 6.70 -9.40Z" fill="#8d548d"/><path transform="translate(-1.10,0.25)" d="M2.30 -9.40A6.10 9.40 0 1 0 14.50 -9.40A6.10 9.40 0 1 0 2.30 -9.40ZM6.70 -9.40A1.90 5.30 0 1 0 10.50 -9.40A1.90 5.30 0 1 0 6.70 -9.40Z" fill="#8d548d"/><path transform="translate(-0.55,0.12)" d="M2.30 -9.40A6.10 9.40 0 1 0 14.50 -9.40A6.10 9.40 0 1 0 2.30 -9.40ZM6.70 -9.40A1.90 5.30 0 1 0 10.50 -9.40A1.90 5.30 0 1 0 6.70 -9.40Z" fill="#8d548d"/><path d="M2.30 -9.40A6.10 9.40 0 1 0 14.50 -9.40A6.10 9.40 0 1 0 2.30 -9.40ZM6.70 -9.40A1.90 5.30 0 1 0 10.50 -9.40A1.90 5.30 0 1 0 6.70 -9.40Z" fill="url(#gP)"/></g><g transform="translate(52.8,94.2) skewY(-25)" fill-rule="evenodd"><path transform="translate(-2.20,0.50)" d="M12 0V-18.7H9L8.6 -17C7.6 -15.4 6 -14.2 4.2 -13.6V-10.2L7.8 -12.2V0Z" fill="#8d548d"/><path transform="translate(-1.65,0.38)" d="M12 0V-18.7H9L8.6 -17C7.6 -15.4 6 -14.2 4.2 -13.6V-10.2L7.8 -12.2V0Z" fill="#8d548d"/><path transform="translate(-1.10,0.25)" d="M12 0V-18.7H9L8.6 -17C7.6 -15.4 6 -14.2 4.2 -13.6V-10.2L7.8 -12.2V0Z" fill="#8d548d"/><path transform="translate(-0.55,0.12)" d="M12 0V-18.7H9L8.6 -17C7.6 -15.4 6 -14.2 4.2 -13.6V-10.2L7.8 -12.2V0Z" fill="#8d548d"/><path d="M12 0V-18.7H9L8.6 -17C7.6 -15.4 6 -14.2 4.2 -13.6V-10.2L7.8 -12.2V0Z" fill="url(#gP)"/></g><g transform="translate(67.8,87.2) skewY(-25)" fill-rule="evenodd"><path transform="translate(-2.20,0.50)" d="M2.30 -9.40A6.10 9.40 0 1 0 14.50 -9.40A6.10 9.40 0 1 0 2.30 -9.40ZM6.70 -9.40A1.90 5.30 0 1 0 10.50 -9.40A1.90 5.30 0 1 0 6.70 -9.40Z" fill="#8d548d"/><path transform="translate(-1.65,0.38)" d="M2.30 -9.40A6.10 9.40 0 1 0 14.50 -9.40A6.10 9.40 0 1 0 2.30 -9.40ZM6.70 -9.40A1.90 5.30 0 1 0 10.50 -9.40A1.90 5.30 0 1 0 6.70 -9.40Z" fill="#8d548d"/><path transform="translate(-1.10,0.25)" d="M2.30 -9.40A6.10 9.40 0 1 0 14.50 -9.40A6.10 9.40 0 1 0 2.30 -9.40ZM6.70 -9.40A1.90 5.30 0 1 0 10.50 -9.40A1.90 5.30 0 1 0 6.70 -9.40Z" fill="#8d548d"/><path transform="translate(-0.55,0.12)" d="M2.30 -9.40A6.10 9.40 0 1 0 14.50 -9.40A6.10 9.40 0 1 0 2.30 -9.40ZM6.70 -9.40A1.90 5.30 0 1 0 10.50 -9.40A1.90 5.30 0 1 0 6.70 -9.40Z" fill="#8d548d"/><path d="M2.30 -9.40A6.10 9.40 0 1 0 14.50 -9.40A6.10 9.40 0 1 0 2.30 -9.40ZM6.70 -9.40A1.90 5.30 0 1 0 10.50 -9.40A1.90 5.30 0 1 0 6.70 -9.40Z" fill="url(#gP)"/></g><g transform="translate(22.8,132.2) skewY(-25)" fill-rule="evenodd"><path transform="translate(-2.20,0.50)" d="M12 0V-18.7H9L8.6 -17C7.6 -15.4 6 -14.2 4.2 -13.6V-10.2L7.8 -12.2V0Z" fill="#8f5353"/><path transform="translate(-1.65,0.38)" d="M12 0V-18.7H9L8.6 -17C7.6 -15.4 6 -14.2 4.2 -13.6V-10.2L7.8 -12.2V0Z" fill="#8f5353"/><path transform="translate(-1.10,0.25)" d="M12 0V-18.7H9L8.6 -17C7.6 -15.4 6 -14.2 4.2 -13.6V-10.2L7.8 -12.2V0Z" fill="#8f5353"/><path transform="translate(-0.55,0.12)" d="M12 0V-18.7H9L8.6 -17C7.6 -15.4 6 -14.2 4.2 -13.6V-10.2L7.8 -12.2V0Z" fill="#8f5353"/><path d="M12 0V-18.7H9L8.6 -17C7.6 -15.4 6 -14.2 4.2 -13.6V-10.2L7.8 -12.2V0Z" fill="url(#gR)"/></g><g transform="translate(37.8,125.2) skewY(-25)" fill-rule="evenodd"><path transform="translate(-2.20,0.50)" d="M2.30 -9.40A6.10 9.40 0 1 0 14.50 -9.40A6.10 9.40 0 1 0 2.30 -9.40ZM6.70 -9.40A1.90 5.30 0 1 0 10.50 -9.40A1.90 5.30 0 1 0 6.70 -9.40Z" fill="#8f5353"/><path transform="translate(-1.65,0.38)" d="M2.30 -9.40A6.10 9.40 0 1 0 14.50 -9.40A6.10 9.40 0 1 0 2.30 -9.40ZM6.70 -9.40A1.90 5.30 0 1 0 10.50 -9.40A1.90 5.30 0 1 0 6.70 -9.40Z" fill="#8f5353"/><path transform="translate(-1.10,0.25)" d="M2.30 -9.40A6.10 9.40 0 1 0 14.50 -9.40A6.10 9.40 0 1 0 2.30 -9.40ZM6.70 -9.40A1.90 5.30 0 1 0 10.50 -9.40A1.90 5.30 0 1 0 6.70 -9.40Z" fill="#8f5353"/><path transform="translate(-0.55,0.12)" d="M2.30 -9.40A6.10 9.40 0 1 0 14.50 -9.40A6.10 9.40 0 1 0 2.30 -9.40ZM6.70 -9.40A1.90 5.30 0 1 0 10.50 -9.40A1.90 5.30 0 1 0 6.70 -9.40Z" fill="#8f5353"/><path d="M2.30 -9.40A6.10 9.40 0 1 0 14.50 -9.40A6.10 9.40 0 1 0 2.30 -9.40ZM6.70 -9.40A1.90 5.30 0 1 0 10.50 -9.40A1.90 5.30 0 1 0 6.70 -9.40Z" fill="url(#gR)"/></g><g transform="translate(52.8,118.2) skewY(-25)" fill-rule="evenodd"><path transform="translate(-2.20,0.50)" d="M12 0V-18.7H9L8.6 -17C7.6 -15.4 6 -14.2 4.2 -13.6V-10.2L7.8 -12.2V0Z" fill="#8f5353"/><path transform="translate(-1.65,0.38)" d="M12 0V-18.7H9L8.6 -17C7.6 -15.4 6 -14.2 4.2 -13.6V-10.2L7.8 -12.2V0Z" fill="#8f5353"/><path transform="translate(-1.10,0.25)" d="M12 0V-18.7H9L8.6 -17C7.6 -15.4 6 -14.2 4.2 -13.6V-10.2L7.8 -12.2V0Z" fill="#8f5353"/><path transform="translate(-0.55,0.12)" d="M12 0V-18.7H9L8.6 -17C7.6 -15.4 6 -14.2 4.2 -13.6V-10.2L7.8 -12.2V0Z" fill="#8f5353"/><path d="M12 0V-18.7H9L8.6 -17C7.6 -15.4 6 -14.2 4.2 -13.6V-10.2L7.8 -12.2V0Z" fill="url(#gR)"/></g><g transform="translate(67.8,111.2) skewY(-25)" fill-rule="evenodd"><path transform="translate(-2.20,0.50)" d="M2.30 -9.40A6.10 9.40 0 1 0 14.50 -9.40A6.10 9.40 0 1 0 2.30 -9.40ZM6.70 -9.40A1.90 5.30 0 1 0 10.50 -9.40A1.90 5.30 0 1 0 6.70 -9.40Z" fill="#8f5353"/><path transform="translate(-1.65,0.38)" d="M2.30 -9.40A6.10 9.40 0 1 0 14.50 -9.40A6.10 9.40 0 1 0 2.30 -9.40ZM6.70 -9.40A1.90 5.30 0 1 0 10.50 -9.40A1.90 5.30 0 1 0 6.70 -9.40Z" fill="#8f5353"/><path transform="translate(-1.10,0.25)" d="M2.30 -9.40A6.10 9.40 0 1 0 14.50 -9.40A6.10 9.40 0 1 0 2.30 -9.40ZM6.70 -9.40A1.90 5.30 0 1 0 10.50 -9.40A1.90 5.30 0 1 0 6.70 -9.40Z" fill="#8f5353"/><path transform="translate(-0.55,0.12)" d="M2.30 -9.40A6.10 9.40 0 1 0 14.50 -9.40A6.10 9.40 0 1 0 2.30 -9.40ZM6.70 -9.40A1.90 5.30 0 1 0 10.50 -9.40A1.90 5.30 0 1 0 6.70 -9.40Z" fill="#8f5353"/><path d="M2.30 -9.40A6.10 9.40 0 1 0 14.50 -9.40A6.10 9.40 0 1 0 2.30 -9.40ZM6.70 -9.40A1.90 5.30 0 1 0 10.50 -9.40A1.90 5.30 0 1 0 6.70 -9.40Z" fill="url(#gR)"/></g><g transform="translate(22.8,156.2) skewY(-25)" fill-rule="evenodd"><path transform="translate(-2.20,0.50)" d="M2.30 -9.40A6.10 9.40 0 1 0 14.50 -9.40A6.10 9.40 0 1 0 2.30 -9.40ZM6.70 -9.40A1.90 5.30 0 1 0 10.50 -9.40A1.90 5.30 0 1 0 6.70 -9.40Z" fill="#4f8a4f"/><path transform="translate(-1.65,0.38)" d="M2.30 -9.40A6.10 9.40 0 1 0 14.50 -9.40A6.10 9.40 0 1 0 2.30 -9.40ZM6.70 -9.40A1.90 5.30 0 1 0 10.50 -9.40A1.90 5.30 0 1 0 6.70 -9.40Z" fill="#4f8a4f"/><path transform="translate(-1.10,0.25)" d="M2.30 -9.40A6.10 9.40 0 1 0 14.50 -9.40A6.10 9.40 0 1 0 2.30 -9.40ZM6.70 -9.40A1.90 5.30 0 1 0 10.50 -9.40A1.90 5.30 0 1 0 6.70 -9.40Z" fill="#4f8a4f"/><path transform="translate(-0.55,0.12)" d="M2.30 -9.40A6.10 9.40 0 1 0 14.50 -9.40A6.10 9.40 0 1 0 2.30 -9.40ZM6.70 -9.40A1.90 5.30 0 1 0 10.50 -9.40A1.90 5.30 0 1 0 6.70 -9.40Z" fill="#4f8a4f"/><path d="M2.30 -9.40A6.10 9.40 0 1 0 14.50 -9.40A6.10 9.40 0 1 0 2.30 -9.40ZM6.70 -9.40A1.90 5.30 0 1 0 10.50 -9.40A1.90 5.30 0 1 0 6.70 -9.40Z" fill="url(#gG)"/></g><g transform="translate(37.8,149.2) skewY(-25)" fill-rule="evenodd"><path transform="translate(-2.20,0.50)" d="M12 0V-18.7H9L8.6 -17C7.6 -15.4 6 -14.2 4.2 -13.6V-10.2L7.8 -12.2V0Z" fill="#4f8a4f"/><path transform="translate(-1.65,0.38)" d="M12 0V-18.7H9L8.6 -17C7.6 -15.4 6 -14.2 4.2 -13.6V-10.2L7.8 -12.2V0Z" fill="#4f8a4f"/><path transform="translate(-1.10,0.25)" d="M12 0V-18.7H9L8.6 -17C7.6 -15.4 6 -14.2 4.2 -13.6V-10.2L7.8 -12.2V0Z" fill="#4f8a4f"/><path transform="translate(-0.55,0.12)" d="M12 0V-18.7H9L8.6 -17C7.6 -15.4 6 -14.2 4.2 -13.6V-10.2L7.8 -12.2V0Z" fill="#4f8a4f"/><path d="M12 0V-18.7H9L8.6 -17C7.6 -15.4 6 -14.2 4.2 -13.6V-10.2L7.8 -12.2V0Z" fill="url(#gG)"/></g><g transform="translate(52.8,142.2) skewY(-25)" fill-rule="evenodd"><path transform="translate(-2.20,0.50)" d="M2.30 -9.40A6.10 9.40 0 1 0 14.50 -9.40A6.10 9.40 0 1 0 2.30 -9.40ZM6.70 -9.40A1.90 5.30 0 1 0 10.50 -9.40A1.90 5.30 0 1 0 6.70 -9.40Z" fill="#4f8a4f"/><path transform="translate(-1.65,0.38)" d="M2.30 -9.40A6.10 9.40 0 1 0 14.50 -9.40A6.10 9.40 0 1 0 2.30 -9.40ZM6.70 -9.40A1.90 5.30 0 1 0 10.50 -9.40A1.90 5.30 0 1 0 6.70 -9.40Z" fill="#4f8a4f"/><path transform="translate(-1.10,0.25)" d="M2.30 -9.40A6.10 9.40 0 1 0 14.50 -9.40A6.10 9.40 0 1 0 2.30 -9.40ZM6.70 -9.40A1.90 5.30 0 1 0 10.50 -9.40A1.90 5.30 0 1 0 6.70 -9.40Z" fill="#4f8a4f"/><path transform="translate(-0.55,0.12)" d="M2.30 -9.40A6.10 9.40 0 1 0 14.50 -9.40A6.10 9.40 0 1 0 2.30 -9.40ZM6.70 -9.40A1.90 5.30 0 1 0 10.50 -9.40A1.90 5.30 0 1 0 6.70 -9.40Z" fill="#4f8a4f"/><path d="M2.30 -9.40A6.10 9.40 0 1 0 14.50 -9.40A6.10 9.40 0 1 0 2.30 -9.40ZM6.70 -9.40A1.90 5.30 0 1 0 10.50 -9.40A1.90 5.30 0 1 0 6.70 -9.40Z" fill="url(#gG)"/></g><g transform="translate(67.8,135.2) skewY(-25)" fill-rule="evenodd"><path transform="translate(-2.20,0.50)" d="M2.30 -9.40A6.10 9.40 0 1 0 14.50 -9.40A6.10 9.40 0 1 0 2.30 -9.40ZM6.70 -9.40A1.90 5.30 0 1 0 10.50 -9.40A1.90 5.30 0 1 0 6.70 -9.40Z" fill="#4f8a4f"/><path transform="translate(-1.65,0.38)" d="M2.30 -9.40A6.10 9.40 0 1 0 14.50 -9.40A6.10 9.40 0 1 0 2.30 -9.40ZM6.70 -9.40A1.90 5.30 0 1 0 10.50 -9.40A1.90 5.30 0 1 0 6.70 -9.40Z" fill="#4f8a4f"/><path transform="translate(-1.10,0.25)" d="M2.30 -9.40A6.10 9.40 0 1 0 14.50 -9.40A6.10 9.40 0 1 0 2.30 -9.40ZM6.70 -9.40A1.90 5.30 0 1 0 10.50 -9.40A1.90 5.30 0 1 0 6.70 -9.40Z" fill="#4f8a4f"/><path transform="translate(-0.55,0.12)" d="M2.30 -9.40A6.10 9.40 0 1 0 14.50 -9.40A6.10 9.40 0 1 0 2.30 -9.40ZM6.70 -9.40A1.90 5.30 0 1 0 10.50 -9.40A1.90 5.30 0 1 0 6.70 -9.40Z" fill="#4f8a4f"/><path d="M2.30 -9.40A6.10 9.40 0 1 0 14.50 -9.40A6.10 9.40 0 1 0 2.30 -9.40ZM6.70 -9.40A1.90 5.30 0 1 0 10.50 -9.40A1.90 5.30 0 1 0 6.70 -9.40Z" fill="url(#gG)"/></g></g><g transform="translate(0.0,0)"><ellipse cx="132.8" cy="43" rx="9.4" ry="12.9" transform="rotate(27 132.8 43)" fill="#8d578d"/><ellipse cx="134.2" cy="42" rx="9.2" ry="12.6" transform="rotate(27 134.2 42)" fill="url(#gP)"/><path d="M138.3 61L141.3 59.8V82.4L138.3 80.8Z" fill="#8f5555"/><path d="M138.3 61L156.8 52.6L159.8 51.9L141.3 59.8Z" fill="#dcb0b0"/><path d="M141.3 59.8L159.8 51.9V73.7L141.3 82.4Z" fill="url(#gR)"/><path d="M131.2 85.4L123 106.5L126 109Z" fill="#4f8a4f"/><path d="M131.2 85.4L133.2 85.6L144 101.5L126 109Z" fill="url(#gG)"/></g><g transform="translate(497.6,0)"><path d="M34.6 101.5L90 128.6L116.6 113V116.3L90 132L34.6 105.2Z" fill="#bdbdbd"/><path d="M34.6 101.5L90 128.6V132L34.6 105.2Z" fill="#a4a4a4"/><path d="M35.7 23L90.2 50.3V128.8L35.7 102Z" fill="url(#sLeft2)"/><path d="M35.7 72L90.2 99.5V128.8L35.7 102Z" fill="#9e9e9e"/><path d="M35.7 71.7L90.2 99.2" stroke="#bababa" stroke-width="0.8" fill="none"/><path d="M38.7 76.0V102.0M42.6 78.0V103.9M46.5 80.0V105.8M50.4 81.9V107.7M54.3 83.9V109.6M58.2 85.9V111.5M62.1 87.8V113.4M66.0 89.8V115.3M69.9 91.8V117.3M73.8 93.7V119.2M77.7 95.7V121.1M81.6 97.7V123.0M85.5 99.6V124.9" stroke="#8b8b8b" stroke-width="1.4" fill="none"/><path transform="translate(1.4,0.7)" d="M38.7 76.0V102.0M42.6 78.0V103.9M46.5 80.0V105.8M50.4 81.9V107.7M54.3 83.9V109.6M58.2 85.9V111.5M62.1 87.8V113.4M66.0 89.8V115.3M69.9 91.8V117.3M73.8 93.7V119.2M77.7 95.7V121.1M81.6 97.7V123.0M85.5 99.6V124.9" stroke="#a9a9a9" stroke-width="0.7" fill="none"/><path d="M90.2 50.3L116 36.6V113.3L90.2 128.8Z" fill="url(#sRight)"/><path d="M92.6 52L113.8 41.4V45L92.6 55.8Z" fill="#b4b4b4" stroke="#f0f0f0" stroke-width="0.6"/><path d="M90.5 59L116 46.3" stroke="#a9a9a9" stroke-width="0.7"/><path d="M98.8 55V124" stroke="#ababab" stroke-width="0.7"/><path d="M99.6 55V124" stroke="#f2f2f2" stroke-width="0.7"/><path d="M101.2 58.6L113.5 52.6V55L101.2 61.2Z" fill="#b0b0b0" stroke="#f0f0f0" stroke-width="0.5"/><path d="M100 64.8L116 57" stroke="#b0b0b0" stroke-width="0.6"/><path d="M101.2 67L113.5 61V64L101.2 70.2Z" fill="#6f6f6f" stroke="#f0f0f0" stroke-width="0.5"/><path d="M102.3 72.3V121.7M106.0 70.5V119.5M109.7 68.7V117.4M113.3 66.8V115.3" stroke="#9b9b9b" stroke-width="1.5" fill="none"/><path transform="translate(1.3,-0.5)" d="M102.3 72.3V121.7M106.0 70.5V119.5M109.7 68.7V117.4M113.3 66.8V115.3" stroke="#f0f0f0" stroke-width="0.8" fill="none"/><path d="M91 72C91 68 97.8 65 97.8 68.5V123.5L91 127.5Z" fill="#cfcfcf" stroke="#b5b5b5" stroke-width="0.5"/><path d="M92.6 75.8L96.6 73.6V75.2L92.6 77.4Z" fill="#62c23a"/><ellipse cx="94.6" cy="80.6" rx="2.1" ry="1.3" transform="rotate(-27 94.6 80.6)" fill="#f6f6f6" stroke="#aaa" stroke-width="0.4"/><path d="M61.6 9.2L116 36.6L90.2 50.3L35.7 23Z" fill="url(#sTop2)"/><path d="M35.7 23L90.2 50.3L116 36.6" stroke="#e0e0e0" stroke-width="0.6" fill="none"/><path d="M90.2 50.3V128.8" stroke="#cdcdcd" stroke-width="0.7"/></g><g transform="translate(497.6,0)"><g transform="translate(22.8,108.2) skewY(-25)" fill-rule="evenodd"><path transform="translate(-2.20,0.50)" d="M2.30 -9.40A6.10 9.40 0 1 0 14.50 -9.40A6.10 9.40 0 1 0 2.30 -9.40ZM6.70 -9.40A1.90 5.30 0 1 0 10.50 -9.40A1.90 5.30 0 1 0 6.70 -9.40Z" fill="#8d548d"/><path transform="translate(-1.65,0.38)" d="M2.30 -9.40A6.10 9.40 0 1 0 14.50 -9.40A6.10 9.40 0 1 0 2.30 -9.40ZM6.70 -9.40A1.90 5.30 0 1 0 10.50 -9.40A1.90 5.30 0 1 0 6.70 -9.40Z" fill="#8d548d"/><path transform="translate(-1.10,0.25)" d="M2.30 -9.40A6.10 9.40 0 1 0 14.50 -9.40A6.10 9.40 0 1 0 2.30 -9.40ZM6.70 -9.40A1.90 5.30 0 1 0 10.50 -9.40A1.90 5.30 0 1 0 6.70 -9.40Z" fill="#8d548d"/><path transform="translate(-0.55,0.12)" d="M2.30 -9.40A6.10 9.40 0 1 0 14.50 -9.40A6.10 9.40 0 1 0 2.30 -9.40ZM6.70 -9.40A1.90 5.30 0 1 0 10.50 -9.40A1.90 5.30 0 1 0 6.70 -9.40Z" fill="#8d548d"/><path d="M2.30 -9.40A6.10 9.40 0 1 0 14.50 -9.40A6.10 9.40 0 1 0 2.30 -9.40ZM6.70 -9.40A1.90 5.30 0 1 0 10.50 -9.40A1.90 5.30 0 1 0 6.70 -9.40Z" fill="url(#gP)"/></g><g transform="translate(37.8,101.2) skewY(-25)" fill-rule="evenodd"><path transform="translate(-2.20,0.50)" d="M2.30 -9.40A6.10 9.40 0 1 0 14.50 -9.40A6.10 9.40 0 1 0 2.30 -9.40ZM6.70 -9.40A1.90 5.30 0 1 0 10.50 -9.40A1.90 5.30 0 1 0 6.70 -9.40Z" fill="#8d548d"/><path transform="translate(-1.65,0.38)" d="M2.30 -9.40A6.10 9.40 0 1 0 14.50 -9.40A6.10 9.40 0 1 0 2.30 -9.40ZM6.70 -9.40A1.90 5.30 0 1 0 10.50 -9.40A1.90 5.30 0 1 0 6.70 -9.40Z" fill="#8d548d"/><path transform="translate(-1.10,0.25)" d="M2.30 -9.40A6.10 9.40 0 1 0 14.50 -9.40A6.10 9.40 0 1 0 2.30 -9.40ZM6.70 -9.40A1.90 5.30 0 1 0 10.50 -9.40A1.90 5.30 0 1 0 6.70 -9.40Z" fill="#8d548d"/><path transform="translate(-0.55,0.12)" d="M2.30 -9.40A6.10 9.40 0 1 0 14.50 -9.40A6.10 9.40 0 1 0 2.30 -9.40ZM6.70 -9.40A1.90 5.30 0 1 0 10.50 -9.40A1.90 5.30 0 1 0 6.70 -9.40Z" fill="#8d548d"/><path d="M2.30 -9.40A6.10 9.40 0 1 0 14.50 -9.40A6.10 9.40 0 1 0 2.30 -9.40ZM6.70 -9.40A1.90 5.30 0 1 0 10.50 -9.40A1.90 5.30 0 1 0 6.70 -9.40Z" fill="url(#gP)"/></g><g transform="translate(52.8,94.2) skewY(-25)" fill-rule="evenodd"><path transform="translate(-2.20,0.50)" d="M12 0V-18.7H9L8.6 -17C7.6 -15.4 6 -14.2 4.2 -13.6V-10.2L7.8 -12.2V0Z" fill="#8d548d"/><path transform="translate(-1.65,0.38)" d="M12 0V-18.7H9L8.6 -17C7.6 -15.4 6 -14.2 4.2 -13.6V-10.2L7.8 -12.2V0Z" fill="#8d548d"/><path transform="translate(-1.10,0.25)" d="M12 0V-18.7H9L8.6 -17C7.6 -15.4 6 -14.2 4.2 -13.6V-10.2L7.8 -12.2V0Z" fill="#8d548d"/><path transform="translate(-0.55,0.12)" d="M12 0V-18.7H9L8.6 -17C7.6 -15.4 6 -14.2 4.2 -13.6V-10.2L7.8 -12.2V0Z" fill="#8d548d"/><path d="M12 0V-18.7H9L8.6 -17C7.6 -15.4 6 -14.2 4.2 -13.6V-10.2L7.8 -12.2V0Z" fill="url(#gP)"/></g><g transform="translate(67.8,87.2) skewY(-25)" fill-rule="evenodd"><path transform="translate(-2.20,0.50)" d="M2.30 -9.40A6.10 9.40 0 1 0 14.50 -9.40A6.10 9.40 0 1 0 2.30 -9.40ZM6.70 -9.40A1.90 5.30 0 1 0 10.50 -9.40A1.90 5.30 0 1 0 6.70 -9.40Z" fill="#8d548d"/><path transform="translate(-1.65,0.38)" d="M2.30 -9.40A6.10 9.40 0 1 0 14.50 -9.40A6.10 9.40 0 1 0 2.30 -9.40ZM6.70 -9.40A1.90 5.30 0 1 0 10.50 -9.40A1.90 5.30 0 1 0 6.70 -9.40Z" fill="#8d548d"/><path transform="translate(-1.10,0.25)" d="M2.30 -9.40A6.10 9.40 0 1 0 14.50 -9.40A6.10 9.40 0 1 0 2.30 -9.40ZM6.70 -9.40A1.90 5.30 0 1 0 10.50 -9.40A1.90 5.30 0 1 0 6.70 -9.40Z" fill="#8d548d"/><path transform="translate(-0.55,0.12)" d="M2.30 -9.40A6.10 9.40 0 1 0 14.50 -9.40A6.10 9.40 0 1 0 2.30 -9.40ZM6.70 -9.40A1.90 5.30 0 1 0 10.50 -9.40A1.90 5.30 0 1 0 6.70 -9.40Z" fill="#8d548d"/><path d="M2.30 -9.40A6.10 9.40 0 1 0 14.50 -9.40A6.10 9.40 0 1 0 2.30 -9.40ZM6.70 -9.40A1.90 5.30 0 1 0 10.50 -9.40A1.90 5.30 0 1 0 6.70 -9.40Z" fill="url(#gP)"/></g><g transform="translate(22.8,132.2) skewY(-25)" fill-rule="evenodd"><path transform="translate(-2.20,0.50)" d="M12 0V-18.7H9L8.6 -17C7.6 -15.4 6 -14.2 4.2 -13.6V-10.2L7.8 -12.2V0Z" fill="#8f5353"/><path transform="translate(-1.65,0.38)" d="M12 0V-18.7H9L8.6 -17C7.6 -15.4 6 -14.2 4.2 -13.6V-10.2L7.8 -12.2V0Z" fill="#8f5353"/><path transform="translate(-1.10,0.25)" d="M12 0V-18.7H9L8.6 -17C7.6 -15.4 6 -14.2 4.2 -13.6V-10.2L7.8 -12.2V0Z" fill="#8f5353"/><path transform="translate(-0.55,0.12)" d="M12 0V-18.7H9L8.6 -17C7.6 -15.4 6 -14.2 4.2 -13.6V-10.2L7.8 -12.2V0Z" fill="#8f5353"/><path d="M12 0V-18.7H9L8.6 -17C7.6 -15.4 6 -14.2 4.2 -13.6V-10.2L7.8 -12.2V0Z" fill="url(#gR)"/></g><g transform="translate(37.8,125.2) skewY(-25)" fill-rule="evenodd"><path transform="translate(-2.20,0.50)" d="M2.30 -9.40A6.10 9.40 0 1 0 14.50 -9.40A6.10 9.40 0 1 0 2.30 -9.40ZM6.70 -9.40A1.90 5.30 0 1 0 10.50 -9.40A1.90 5.30 0 1 0 6.70 -9.40Z" fill="#8f5353"/><path transform="translate(-1.65,0.38)" d="M2.30 -9.40A6.10 9.40 0 1 0 14.50 -9.40A6.10 9.40 0 1 0 2.30 -9.40ZM6.70 -9.40A1.90 5.30 0 1 0 10.50 -9.40A1.90 5.30 0 1 0 6.70 -9.40Z" fill="#8f5353"/><path transform="translate(-1.10,0.25)" d="M2.30 -9.40A6.10 9.40 0 1 0 14.50 -9.40A6.10 9.40 0 1 0 2.30 -9.40ZM6.70 -9.40A1.90 5.30 0 1 0 10.50 -9.40A1.90 5.30 0 1 0 6.70 -9.40Z" fill="#8f5353"/><path transform="translate(-0.55,0.12)" d="M2.30 -9.40A6.10 9.40 0 1 0 14.50 -9.40A6.10 9.40 0 1 0 2.30 -9.40ZM6.70 -9.40A1.90 5.30 0 1 0 10.50 -9.40A1.90 5.30 0 1 0 6.70 -9.40Z" fill="#8f5353"/><path d="M2.30 -9.40A6.10 9.40 0 1 0 14.50 -9.40A6.10 9.40 0 1 0 2.30 -9.40ZM6.70 -9.40A1.90 5.30 0 1 0 10.50 -9.40A1.90 5.30 0 1 0 6.70 -9.40Z" fill="url(#gR)"/></g><g transform="translate(52.8,118.2) skewY(-25)" fill-rule="evenodd"><path transform="translate(-2.20,0.50)" d="M12 0V-18.7H9L8.6 -17C7.6 -15.4 6 -14.2 4.2 -13.6V-10.2L7.8 -12.2V0Z" fill="#8f5353"/><path transform="translate(-1.65,0.38)" d="M12 0V-18.7H9L8.6 -17C7.6 -15.4 6 -14.2 4.2 -13.6V-10.2L7.8 -12.2V0Z" fill="#8f5353"/><path transform="translate(-1.10,0.25)" d="M12 0V-18.7H9L8.6 -17C7.6 -15.4 6 -14.2 4.2 -13.6V-10.2L7.8 -12.2V0Z" fill="#8f5353"/><path transform="translate(-0.55,0.12)" d="M12 0V-18.7H9L8.6 -17C7.6 -15.4 6 -14.2 4.2 -13.6V-10.2L7.8 -12.2V0Z" fill="#8f5353"/><path d="M12 0V-18.7H9L8.6 -17C7.6 -15.4 6 -14.2 4.2 -13.6V-10.2L7.8 -12.2V0Z" fill="url(#gR)"/></g><g transform="translate(67.8,111.2) skewY(-25)" fill-rule="evenodd"><path transform="translate(-2.20,0.50)" d="M2.30 -9.40A6.10 9.40 0 1 0 14.50 -9.40A6.10 9.40 0 1 0 2.30 -9.40ZM6.70 -9.40A1.90 5.30 0 1 0 10.50 -9.40A1.90 5.30 0 1 0 6.70 -9.40Z" fill="#8f5353"/><path transform="translate(-1.65,0.38)" d="M2.30 -9.40A6.10 9.40 0 1 0 14.50 -9.40A6.10 9.40 0 1 0 2.30 -9.40ZM6.70 -9.40A1.90 5.30 0 1 0 10.50 -9.40A1.90 5.30 0 1 0 6.70 -9.40Z" fill="#8f5353"/><path transform="translate(-1.10,0.25)" d="M2.30 -9.40A6.10 9.40 0 1 0 14.50 -9.40A6.10 9.40 0 1 0 2.30 -9.40ZM6.70 -9.40A1.90 5.30 0 1 0 10.50 -9.40A1.90 5.30 0 1 0 6.70 -9.40Z" fill="#8f5353"/><path transform="translate(-0.55,0.12)" d="M2.30 -9.40A6.10 9.40 0 1 0 14.50 -9.40A6.10 9.40 0 1 0 2.30 -9.40ZM6.70 -9.40A1.90 5.30 0 1 0 10.50 -9.40A1.90 5.30 0 1 0 6.70 -9.40Z" fill="#8f5353"/><path d="M2.30 -9.40A6.10 9.40 0 1 0 14.50 -9.40A6.10 9.40 0 1 0 2.30 -9.40ZM6.70 -9.40A1.90 5.30 0 1 0 10.50 -9.40A1.90 5.30 0 1 0 6.70 -9.40Z" fill="url(#gR)"/></g><g transform="translate(22.8,156.2) skewY(-25)" fill-rule="evenodd"><path transform="translate(-2.20,0.50)" d="M2.30 -9.40A6.10 9.40 0 1 0 14.50 -9.40A6.10 9.40 0 1 0 2.30 -9.40ZM6.70 -9.40A1.90 5.30 0 1 0 10.50 -9.40A1.90 5.30 0 1 0 6.70 -9.40Z" fill="#4f8a4f"/><path transform="translate(-1.65,0.38)" d="M2.30 -9.40A6.10 9.40 0 1 0 14.50 -9.40A6.10 9.40 0 1 0 2.30 -9.40ZM6.70 -9.40A1.90 5.30 0 1 0 10.50 -9.40A1.90 5.30 0 1 0 6.70 -9.40Z" fill="#4f8a4f"/><path transform="translate(-1.10,0.25)" d="M2.30 -9.40A6.10 9.40 0 1 0 14.50 -9.40A6.10 9.40 0 1 0 2.30 -9.40ZM6.70 -9.40A1.90 5.30 0 1 0 10.50 -9.40A1.90 5.30 0 1 0 6.70 -9.40Z" fill="#4f8a4f"/><path transform="translate(-0.55,0.12)" d="M2.30 -9.40A6.10 9.40 0 1 0 14.50 -9.40A6.10 9.40 0 1 0 2.30 -9.40ZM6.70 -9.40A1.90 5.30 0 1 0 10.50 -9.40A1.90 5.30 0 1 0 6.70 -9.40Z" fill="#4f8a4f"/><path d="M2.30 -9.40A6.10 9.40 0 1 0 14.50 -9.40A6.10 9.40 0 1 0 2.30 -9.40ZM6.70 -9.40A1.90 5.30 0 1 0 10.50 -9.40A1.90 5.30 0 1 0 6.70 -9.40Z" fill="url(#gG)"/></g><g transform="translate(37.8,149.2) skewY(-25)" fill-rule="evenodd"><path transform="translate(-2.20,0.50)" d="M12 0V-18.7H9L8.6 -17C7.6 -15.4 6 -14.2 4.2 -13.6V-10.2L7.8 -12.2V0Z" fill="#4f8a4f"/><path transform="translate(-1.65,0.38)" d="M12 0V-18.7H9L8.6 -17C7.6 -15.4 6 -14.2 4.2 -13.6V-10.2L7.8 -12.2V0Z" fill="#4f8a4f"/><path transform="translate(-1.10,0.25)" d="M12 0V-18.7H9L8.6 -17C7.6 -15.4 6 -14.2 4.2 -13.6V-10.2L7.8 -12.2V0Z" fill="#4f8a4f"/><path transform="translate(-0.55,0.12)" d="M12 0V-18.7H9L8.6 -17C7.6 -15.4 6 -14.2 4.2 -13.6V-10.2L7.8 -12.2V0Z" fill="#4f8a4f"/><path d="M12 0V-18.7H9L8.6 -17C7.6 -15.4 6 -14.2 4.2 -13.6V-10.2L7.8 -12.2V0Z" fill="url(#gG)"/></g><g transform="translate(52.8,142.2) skewY(-25)" fill-rule="evenodd"><path transform="translate(-2.20,0.50)" d="M2.30 -9.40A6.10 9.40 0 1 0 14.50 -9.40A6.10 9.40 0 1 0 2.30 -9.40ZM6.70 -9.40A1.90 5.30 0 1 0 10.50 -9.40A1.90 5.30 0 1 0 6.70 -9.40Z" fill="#4f8a4f"/><path transform="translate(-1.65,0.38)" d="M2.30 -9.40A6.10 9.40 0 1 0 14.50 -9.40A6.10 9.40 0 1 0 2.30 -9.40ZM6.70 -9.40A1.90 5.30 0 1 0 10.50 -9.40A1.90 5.30 0 1 0 6.70 -9.40Z" fill="#4f8a4f"/><path transform="translate(-1.10,0.25)" d="M2.30 -9.40A6.10 9.40 0 1 0 14.50 -9.40A6.10 9.40 0 1 0 2.30 -9.40ZM6.70 -9.40A1.90 5.30 0 1 0 10.50 -9.40A1.90 5.30 0 1 0 6.70 -9.40Z" fill="#4f8a4f"/><path transform="translate(-0.55,0.12)" d="M2.30 -9.40A6.10 9.40 0 1 0 14.50 -9.40A6.10 9.40 0 1 0 2.30 -9.40ZM6.70 -9.40A1.90 5.30 0 1 0 10.50 -9.40A1.90 5.30 0 1 0 6.70 -9.40Z" fill="#4f8a4f"/><path d="M2.30 -9.40A6.10 9.40 0 1 0 14.50 -9.40A6.10 9.40 0 1 0 2.30 -9.40ZM6.70 -9.40A1.90 5.30 0 1 0 10.50 -9.40A1.90 5.30 0 1 0 6.70 -9.40Z" fill="url(#gG)"/></g><g transform="translate(67.8,135.2) skewY(-25)" fill-rule="evenodd"><path transform="translate(-2.20,0.50)" d="M2.30 -9.40A6.10 9.40 0 1 0 14.50 -9.40A6.10 9.40 0 1 0 2.30 -9.40ZM6.70 -9.40A1.90 5.30 0 1 0 10.50 -9.40A1.90 5.30 0 1 0 6.70 -9.40Z" fill="#4f8a4f"/><path transform="translate(-1.65,0.38)" d="M2.30 -9.40A6.10 9.40 0 1 0 14.50 -9.40A6.10 9.40 0 1 0 2.30 -9.40ZM6.70 -9.40A1.90 5.30 0 1 0 10.50 -9.40A1.90 5.30 0 1 0 6.70 -9.40Z" fill="#4f8a4f"/><path transform="translate(-1.10,0.25)" d="M2.30 -9.40A6.10 9.40 0 1 0 14.50 -9.40A6.10 9.40 0 1 0 2.30 -9.40ZM6.70 -9.40A1.90 5.30 0 1 0 10.50 -9.40A1.90 5.30 0 1 0 6.70 -9.40Z" fill="#4f8a4f"/><path transform="translate(-0.55,0.12)" d="M2.30 -9.40A6.10 9.40 0 1 0 14.50 -9.40A6.10 9.40 0 1 0 2.30 -9.40ZM6.70 -9.40A1.90 5.30 0 1 0 10.50 -9.40A1.90 5.30 0 1 0 6.70 -9.40Z" fill="#4f8a4f"/><path d="M2.30 -9.40A6.10 9.40 0 1 0 14.50 -9.40A6.10 9.40 0 1 0 2.30 -9.40ZM6.70 -9.40A1.90 5.30 0 1 0 10.50 -9.40A1.90 5.30 0 1 0 6.70 -9.40Z" fill="url(#gG)"/></g></g><g transform="translate(497.6,0)"><ellipse cx="132.8" cy="43" rx="9.4" ry="12.9" transform="rotate(27 132.8 43)" fill="#8d578d"/><ellipse cx="134.2" cy="42" rx="9.2" ry="12.6" transform="rotate(27 134.2 42)" fill="url(#gP)"/><path d="M138.3 61L141.3 59.8V82.4L138.3 80.8Z" fill="#8f5555"/><path d="M138.3 61L156.8 52.6L159.8 51.9L141.3 59.8Z" fill="#dcb0b0"/><path d="M141.3 59.8L159.8 51.9V73.7L141.3 82.4Z" fill="url(#gR)"/><path d="M131.2 85.4L123 106.5L126 109Z" fill="#4f8a4f"/><path d="M131.2 85.4L133.2 85.6L144 101.5L126 109Z" fill="url(#gG)"/></g><g><path d="M35.9 541.0V585.4A30.9 13.8 0 0 0 97.7 585.4V541.0Z" fill="url(#dbSide)"/><path d="M35.9 585.4A30.9 13.8 0 0 0 97.7 585.4" fill="none" stroke="#3b4b5e" stroke-width="0.8"/><path d="M35.9 556.4A30.9 13.8 0 0 0 97.7 556.7" fill="none" stroke="#4e5a69" stroke-width="0.6"/><path d="M35.9 555.8A30.9 13.8 0 0 0 97.7 555.8" fill="none" stroke="#d5dee8" stroke-width="0.65"/><path d="M35.9 571.2A30.9 13.8 0 0 0 97.7 571.5" fill="none" stroke="#4e5a69" stroke-width="0.6"/><path d="M35.9 570.6A30.9 13.8 0 0 0 97.7 570.6" fill="none" stroke="#d5dee8" stroke-width="0.65"/><ellipse cx="66.8" cy="541.0" rx="30.9" ry="13.8" fill="url(#dbTop)"/><path d="M35.9 541.0A30.9 13.8 0 0 0 97.7 541.0" fill="none" stroke="#e3ebf4" stroke-width="0.6"/></g><g><path d="M248.4 541.0V585.4A30.9 13.8 0 0 0 310.2 585.4V541.0Z" fill="url(#dbSide)"/><path d="M248.4 585.4A30.9 13.8 0 0 0 310.2 585.4" fill="none" stroke="#3b4b5e" stroke-width="0.8"/><path d="M248.4 556.4A30.9 13.8 0 0 0 310.2 556.7" fill="none" stroke="#4e5a69" stroke-width="0.6"/><path d="M248.4 555.8A30.9 13.8 0 0 0 310.2 555.8" fill="none" stroke="#d5dee8" stroke-width="0.65"/><path d="M248.4 571.2A30.9 13.8 0 0 0 310.2 571.5" fill="none" stroke="#4e5a69" stroke-width="0.6"/><path d="M248.4 570.6A30.9 13.8 0 0 0 310.2 570.6" fill="none" stroke="#d5dee8" stroke-width="0.65"/><ellipse cx="279.3" cy="541.0" rx="30.9" ry="13.8" fill="url(#dbTop)"/><path d="M248.4 541.0A30.9 13.8 0 0 0 310.2 541.0" fill="none" stroke="#e3ebf4" stroke-width="0.6"/></g><g><path d="M533.4 541.0V585.4A30.9 13.8 0 0 0 595.2 585.4V541.0Z" fill="url(#dbSide)"/><path d="M533.4 585.4A30.9 13.8 0 0 0 595.2 585.4" fill="none" stroke="#3b4b5e" stroke-width="0.8"/><path d="M533.4 556.4A30.9 13.8 0 0 0 595.2 556.7" fill="none" stroke="#4e5a69" stroke-width="0.6"/><path d="M533.4 555.8A30.9 13.8 0 0 0 595.2 555.8" fill="none" stroke="#d5dee8" stroke-width="0.65"/><path d="M533.4 571.2A30.9 13.8 0 0 0 595.2 571.5" fill="none" stroke="#4e5a69" stroke-width="0.6"/><path d="M533.4 570.6A30.9 13.8 0 0 0 595.2 570.6" fill="none" stroke="#d5dee8" stroke-width="0.65"/><ellipse cx="564.3" cy="541.0" rx="30.9" ry="13.8" fill="url(#dbTop)"/><path d="M533.4 541.0A30.9 13.8 0 0 0 595.2 541.0" fill="none" stroke="#e3ebf4" stroke-width="0.6"/></g><g transform="translate(71.3,494.1)"><rect width="32" height="28.4" fill="url(#loadbg)"/><path d="M2.1 15.8A13.6 13.6 0 0 1 29.3 15.8Z" fill="#fff"/><path d="M2.1 15.8A13.6 13.6 0 0 1 24.62 5.54L16.3 15.8Z" fill="#7db97d"/><text x="1.9" y="25.9" font-size="11.2" font-weight="bold" fill="#fff" textLength="28.6" lengthAdjust="spacingAndGlyphs">LOAD</text></g><g transform="translate(569.0,494.3)"><rect width="32" height="28.4" fill="url(#loadbg)"/><path d="M2.1 15.8A13.6 13.6 0 0 1 29.3 15.8Z" fill="#fff"/><path d="M2.1 15.8A13.6 13.6 0 0 1 24.62 5.54L16.3 15.8Z" fill="#7db97d"/><text x="1.9" y="25.9" font-size="11.2" font-weight="bold" fill="#fff" textLength="28.6" lengthAdjust="spacingAndGlyphs">LOAD</text></g><g stroke="#2b2b2b" stroke-width="1" fill="none"><path d="M126 432.5H151"/><path d="M218.5 432.5H248"/><path d="M325.5 432.5H428"/><path d="M494.2 432.5H523"/><path d="M279.7 466V528"/></g><path transform="translate(119.6,432.5) rotate(180.0)" d="M0 0L-7.2 -3.1 L-5.8 0 L-7.2 3.1Z" fill="#111"/><path transform="translate(530.0,432.5) rotate(0.0)" d="M0 0L-7.2 -3.1 L-5.8 0 L-7.2 3.1Z" fill="#111"/><rect x="46.7" y="416.2" width="64.4" height="27.2" fill="url(#lbl)" stroke="#b8b8b8" stroke-width="0.7"/><text font-size="12" fill="#0d0d0d"><tspan x="50.2" y="427.6">Read Only</tspan><tspan x="50.2" y="438.7">Service</tspan></text><rect x="260.0" y="416.3" width="64.7" height="27.2" fill="url(#lbl)" stroke="#b8b8b8" stroke-width="0.7"/><text font-size="12" fill="#0d0d0d"><tspan x="262.7" y="427.4">Read Write</tspan><tspan x="262.7" y="438.6">Service</tspan></text><rect x="557.6" y="414.8" width="64.0" height="27.5" fill="url(#lbl)" stroke="#b8b8b8" stroke-width="0.7"/><text font-size="12" fill="#0d0d0d"><tspan x="561.2" y="426.7">Read Only</tspan><tspan x="561.2" y="437.3">Service</tspan></text><g fill="none" stroke="#ee0a35" stroke-width="3.6"><circle cx="75.2" cy="430.2" r="15.4"/><path d="M64.3 441.1L86.1 419.3" stroke-width="3.4"/></g><rect x="404.5" y="438.5" width="113" height="29" fill="#fff"/><g font-size="12" fill="#0d0d0d"><text x="155.4" y="434.3" textLength="58.6" lengthAdjust="spacingAndGlyphs">Replication</text><text x="431.2" y="436.4" textLength="58.8" lengthAdjust="spacingAndGlyphs">Replication</text><text x="406.6" y="450.2" textLength="108.6" lengthAdjust="spacingAndGlyphs">(Active Data Guard /</text><text x="405.6" y="463.9" textLength="109.6" lengthAdjust="spacingAndGlyphs">Oracle GloldenGate)</text><text><tspan x="102.9" y="558.8">Standby</tspan><tspan x="102.9" y="570.7">or</tspan><tspan x="102.4" y="582.8">Replica</tspan></text><text><tspan x="597.2" y="558.6">Standby</tspan><tspan x="597.2" y="570.5">or</tspan><tspan x="596.7" y="582.8">Replica</tspan></text><text><tspan x="312.6" y="561.3">Primary</tspan><tspan x="313" y="573.5">or</tspan><tspan x="312.6" y="585.6">Master</tspan></text></g><g font-weight="bold" fill="#0d0d0d"><text x="143.8" y="188.7" font-size="13.2" textLength="86.2" lengthAdjust="spacingAndGlyphs">Data Center 1</text><text x="488.8" y="188.7" font-size="13.2" textLength="87.4" lengthAdjust="spacingAndGlyphs">Data Center 2</text><text font-size="11"><tspan x="337.8" y="269.8" textLength="25.6" lengthAdjust="spacingAndGlyphs">GDS</tspan><tspan x="337.6" y="280.8" textLength="71.2" lengthAdjust="spacingAndGlyphs">Configuration</tspan></text></g></svg></body></html>
